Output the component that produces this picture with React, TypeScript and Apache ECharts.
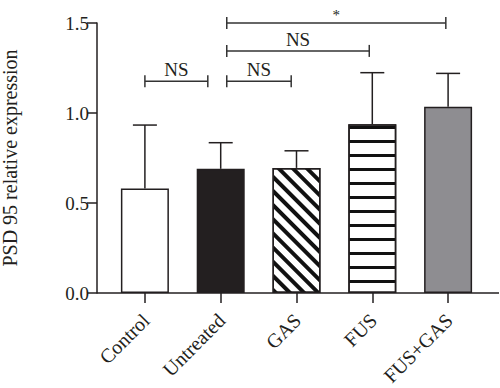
import React, { useEffect, useRef } from "react";
import * as echarts from "echarts";

const categories = ["Control", "Untreated", "GAS", "FUS", "FUS+GAS"];
const means = [0.58, 0.69, 0.695, 0.937, 1.035];
const upperErr = [0.933, 0.835, 0.79, 1.224, 1.22];

const bracketFrom = [0, 1, 1, 1];
const bracketTo = [1, 2, 3, 4];
const bracketY = [1.177, 1.177, 1.345, 1.5];
const bracketLabel = ["NS", "NS", "NS", "*"];
// end insets as fraction of band width
const bracketFromInset = [0, 0.08, 0.08, 0.08];
const bracketToInset = [-0.17, -0.07, -0.04, -0.03];

const FONT = "Liberation Serif";
const INK = "#231f20";

export default function App() {
  const ref = useRef<HTMLDivElement>(null);
  useEffect(() => {
    const chart = echarts.init(ref.current!, null, { renderer: "svg" });
    const fills = [
      { color: "#ffffff" },
      { color: INK },
      {
        color: "#ffffff",
        decal: {
          symbol: "rect",
          symbolSize: 1,
          color: "#111111",
          dashArrayX: [1, 0],
          dashArrayY: [4, 5.5],
          rotation: Math.PI / 4,
        },
      },
      {
        color: "#ffffff",
        decal: {
          symbol: "rect",
          symbolSize: 1,
          color: "#111111",
          dashArrayX: [1, 0],
          dashArrayY: [3, 10.3],
          rotation: 0,
        },
      },
      { color: "#8e8d91" },
    ];
    const option: any = {
      animation: false,
      grid: {
        left: 107,
        right: 14,
        top: 23,
        bottom: 95,
        containLabel: false,
        outerBoundsMode: "none",
      },
      xAxis: {
        type: "category",
        data: categories,
        axisLine: { show: false },
        axisTick: {
          show: true,
          alignWithLabel: true,
          length: 10,
          lineStyle: { color: INK, width: 1.5 },
        },
        axisLabel: { show: false },
      },
      yAxis: {
        type: "value",
        min: 0,
        max: 1.5,
        interval: 0.5,
        offset: 10,
        splitLine: { show: false },
        axisLine: { show: true, lineStyle: { color: INK, width: 1.5 } },
        axisTick: { show: true, length: 10, lineStyle: { color: INK, width: 1.5 } },
        axisLabel: {
          margin: 8,
          color: "#231f20",
          fontFamily: FONT,
          fontSize: 19,
          formatter: (v: number) => v.toFixed(1),
        },
        name: "PSD 95 relative expression",
        nameLocation: "middle",
        nameGap: 77,
        nameTextStyle: { fontFamily: FONT, fontSize: 20, color: "#231f20" },
      },
      graphic: [
        {
          type: "line",
          shape: { x1: 97, y1: 293, x2: 499, y2: 293 },
          style: { stroke: INK, lineWidth: 1.5 },
          z: 10,
        },
      ],
      series: [
        {
          type: "bar",
          barWidth: 48,
          data: means.map((v, i) => ({
            value: v,
            itemStyle: { ...fills[i], borderColor: INK, borderWidth: 1.5 },
          })),
          z: 2,
        },
        {
          type: "custom",
          data: means.map((m, i) => [i, m, upperErr[i]]),
          z: 1,
          renderItem: (params: any, api: any) => {
            const i = api.value(0);
            const p0 = api.coord([i, api.value(1)]);
            const p1 = api.coord([i, api.value(2)]);
            const cap = 12;
            return {
              type: "group",
              children: [
                {
                  type: "line",
                  shape: { x1: p0[0], y1: p0[1], x2: p1[0], y2: p1[1] },
                  style: { stroke: INK, lineWidth: 1.5 },
                },
                {
                  type: "line",
                  shape: { x1: p1[0] - cap, y1: p1[1], x2: p1[0] + cap, y2: p1[1] },
                  style: { stroke: INK, lineWidth: 1.5 },
                },
              ],
            };
          },
        },
        {
          type: "custom",
          clip: false,
          silent: true,
          data: categories.map((c, i) => [i, 0]),
          renderItem: (params: any, api: any) => {
            const i = api.value(0);
            const p = api.coord([i, 0]);
            return {
              type: "text",
              x: p[0] + 1,
              y: p[1] + 24,
              rotation: Math.PI / 4,
              style: {
                text: categories[i],
                fontFamily: FONT,
                fontSize: 20,
                fill: "#231f20",
                align: "right",
                verticalAlign: "middle",
              },
            };
          },
        },
        {
          type: "custom",
          clip: false,
          data: bracketY.map((y, k) => [bracketFrom[k], bracketTo[k], y, k]),
          renderItem: (params: any, api: any) => {
            const k = api.value(3);
            const band = api.size([1, 0])[0];
            const a = api.coord([api.value(0), api.value(2)]);
            const b = api.coord([api.value(1), api.value(2)]);
            const x1 = a[0] + bracketFromInset[k] * band;
            const x2 = b[0] + bracketToInset[k] * band;
            const y = a[1];
            const h = 6;
            const st = { stroke: "#333333", lineWidth: 1.5 };
            const isStar = bracketLabel[k] === "*";
            return {
              type: "group",
              children: [
                { type: "line", shape: { x1, y1: y, x2, y2: y }, style: st },
                { type: "line", shape: { x1, y1: y - h, x2: x1, y2: y + h }, style: st },
                { type: "line", shape: { x1: x2, y1: y - h, x2, y2: y + h }, style: st },
                {
                  type: "text",
                  x: (x1 + x2) / 2,
                  y: y - (isStar ? 1 : 2),
                  style: {
                    text: bracketLabel[k],
                    fontFamily: FONT,
                    fontSize: isStar ? 15 : 19,
                    fill: "#231f20",
                    align: "center",
                    verticalAlign: "bottom",
                  },
                },
              ],
            };
          },
        },
      ],
    };
    chart.setOption(option);
    return () => chart.dispose();
  }, []);
  return (
    <div
      ref={ref}
      style={{ position: "fixed", left: 0, top: 0, width: 500, height: 388, background: "#fff" }}
    />
  );
}
